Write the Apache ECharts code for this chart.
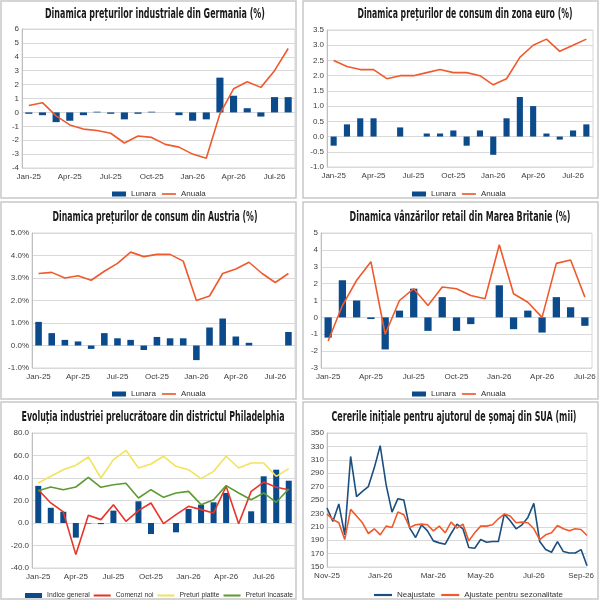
<!DOCTYPE html>
<html>
<head>
<meta charset="utf-8">
<script src="https://cdn.jsdelivr.net/npm/echarts@6/dist/echarts.min.js"></script>
<style>
  html, body { margin: 0; padding: 0; background: #fff; }
  #main { width: 600px; height: 601px; }
</style>
</head>
<body>
<div id="main"></div>
<script>
// month categories Jan-25 .. Sep-26
const months = ['Jan-25','Feb-25','Mar-25','Apr-25','May-25','Jun-25','Jul-25','Aug-25','Sep-25','Oct-25','Nov-25','Dec-25',
  'Jan-26','Feb-26','Mar-26','Apr-26','May-26','Jun-26','Jul-26','Aug-26','Sep-26']

// Germania - preturi industriale
const deLunara = [-0.1,-0.2,-0.7,-0.6,-0.2,0.05,-0.1,-0.5,-0.1,0.05,0,-0.2,-0.6,-0.5,2.5,1.2,0.3,-0.3,1.1,1.1]
const deAnuala = [0.5,0.7,-0.25,-0.9,-1.2,-1.3,-1.5,-2.2,-1.7,-1.8,-2.3,-2.5,-3.0,-3.3,-0.1,1.7,2.2,1.8,3.0,4.6]

// zona euro - preturi de consum
const euLunara = [-0.3,0.4,0.6,0.6,0,0.3,0,0.1,0.1,0.2,-0.3,0.2,-0.6,0.6,1.3,1.0,0.1,-0.1,0.2,0.4]
const euAnuala = [2.5,2.3,2.2,2.2,1.9,2.0,2.0,2.1,2.2,2.1,2.1,2.0,1.7,1.9,2.6,3.0,3.2,2.8,3.0,3.2]

// Austria - preturi de consum
const atLunara = [1.05,0.55,0.25,0.18,-0.15,0.55,0.32,0.25,-0.2,0.38,0.32,0.32,-0.65,0.8,1.2,0.4,0.12,0,0,0.6]
const atAnuala = [3.2,3.25,3.0,3.1,2.9,3.3,3.65,4.15,3.95,4.05,4.05,3.75,2.0,2.2,3.2,3.4,3.7,3.2,2.8,3.2]

// Marea Britanie - vanzari retail
const ukLunara = [-1.2,2.2,1.0,-0.1,-1.9,0.4,1.7,-0.8,1.2,-0.8,-0.4,0,1.9,-0.7,0.4,-0.9,1.2,0.6,-0.5]
const ukAnuala = [-1.4,0.7,2.2,3.3,-1.0,1.0,1.7,0.7,1.8,1.7,1.3,1.1,4.3,1.4,0.9,0.0,3.2,3.4,1.2]

// Philadelphia
const phIndice = [33,13.5,10,-13,-0.5,-1,11,0,19.3,-9.8,0,-8.3,12.4,16.3,18.4,26.7,0,10.4,41.5,47.4,37.6]
const phComenzi = [29.6,17.8,9.8,-28.1,6.8,3,16.3,1.5,11,17.8,-0.6,7.4,14.8,11.9,8.9,32.6,-0.6,28.1,36.4,31.7,29.6]
const phPlatite = [35.6,41.5,47.4,51.3,58.7,40,56.3,64.6,48.9,52.4,59.3,50.4,47.4,39.4,45.9,59.3,48.9,53.3,53.3,41.5,48.3]
const phIncasate = [28.7,32,29.6,32,40.6,31.7,34,35.3,22.2,29.6,22.8,26.7,28.1,16.3,20.7,33.2,26.7,20.7,26.7,18.4,30.2]

// SUA - cereri initiale de somaj (saptamanal)
const claimWeeks = ['01.11.25','08.11.25','15.11.25','22.11.25','29.11.25','06.12.25','13.12.25','20.12.25','27.12.25',
  '03.01.26','10.01.26','17.01.26','24.01.26','31.01.26','07.02.26','14.02.26','21.02.26','28.02.26',
  '07.03.26','14.03.26','21.03.26','28.03.26','04.04.26','11.04.26','18.04.26','25.04.26',
  '02.05.26','09.05.26','16.05.26','23.05.26','30.05.26','06.06.26','13.06.26','20.06.26','27.06.26',
  '04.07.26','11.07.26','18.07.26','25.07.26','01.08.26','08.08.26','15.08.26','22.08.26','29.08.26','05.09.26']
const claimNeajustate = [238,218,244,198,315,255,263,270,298,331,273,232,252,250,208,194,213,204,189,186,184,200,
  214,207,179,178,191,187,188,188,229,219,207,213,224,245,188,176,172,188,173,171,171,176,152]
const claimAjustate = [229,221,216,191,236,226,216,200,207,198,211,209,232,228,209,213,214,213,204,211,201,217,
  208,214,189,201,211,211,213,222,229,226,216,217,216,207,191,198,201,212,207,204,207,206,197]
const claimTickIdx = [0, 9, 18, 26, 35, 43]
const claimTickLabels = ['Nov-25','Jan-26','Mar-26','May-26','Jul-26','Sep-26']

const BLUE = '#0b4a8b'
const ORANGE = '#ef5a2d'
const labelFont = { fontFamily: 'Liberation Sans, Arial, sans-serif', fontSize: 8, color: '#404040' }
const TITLE_FONT = 'bold 14px "DejaVu Sans Condensed", "DejaVu Sans", sans-serif'
const LINE_ICON = 'path://M0,0h20v2.4h-20z'

const panels = [
  { title: 'Dinamica prețurilor industriale din Germania (%)', cx: 155, cy: 14, tw: 220,
    grid: { left: 22, top: 29, width: 273, height: 139 }, min: -4, max: 6, step: 1, fmt: v => v },
  { title: 'Dinamica prețurilor de consum din zona euro (%)', cx: 465, cy: 14, tw: 215,
    grid: { left: 327, top: 30, width: 266, height: 137 }, min: -1, max: 3.5, step: 0.5, fmt: v => v.toFixed(1) },
  { title: 'Dinamica prețurilor de consum din Austria (%)', cx: 155, cy: 217, tw: 205,
    grid: { left: 32, top: 233, width: 263, height: 135 }, min: -1, max: 5, step: 1, fmt: v => v.toFixed(1) + '%' },
  { title: 'Dinamica vânzărilor retail din Marea Britanie (%)', cx: 460, cy: 217, tw: 221,
    grid: { left: 321, top: 233, width: 271, height: 135 }, min: -3, max: 5, step: 1, fmt: v => v },
  { title: 'Evoluția industriei prelucrătoare din districtul Philadelphia', cx: 153, cy: 417, tw: 263,
    grid: { left: 32, top: 433, width: 263, height: 135 }, min: -40, max: 80, step: 20, fmt: v => v.toFixed(1) },
  { title: 'Cererile inițiale pentru ajutorul de șomaj din SUA (mii)', cx: 454, cy: 417, tw: 245,
    grid: { left: 327, top: 433, width: 260, height: 134 }, min: 150, max: 350, step: 20, fmt: v => v }
]

const catsFor = [months.slice(0, 20), months.slice(0, 20), months.slice(0, 20), months.slice(0, 19), months.slice(0, 21), claimWeeks]

// condensed titles: squeeze the bold face to the width seen in the picture
const measure = document.createElement('canvas').getContext('2d')
measure.font = TITLE_FONT
const titleGraphics = panels.map(p => ({
  type: 'text', silent: true, x: p.cx, y: p.cy,
  scaleX: p.tw / measure.measureText(p.title).width,
  style: { text: p.title, font: TITLE_FONT, fill: '#1a1a1a', align: 'center', verticalAlign: 'middle' }
}))

const borderGraphics = [[1, 1], [303, 1], [1, 202], [303, 202], [1, 402], [303, 402]].map(([x, y]) => ({
  type: 'rect', silent: true, z: -1,
  shape: { x: x, y: y, width: 295, height: 197 },
  style: { fill: 'none', stroke: '#c8c8c8', lineWidth: 1.5 }
}))

const legendText = { fontFamily: 'Liberation Sans, Arial, sans-serif', fontSize: 8, color: '#333' }
const pairLegend = [{ name: 'Lunara', icon: 'rect' }, { name: 'Anuala', icon: LINE_ICON }]

const option = {
  animation: false,
  grid: panels.map(p => Object.assign({ show: true, borderColor: '#d9d9d9', borderWidth: 1 }, p.grid)),
  xAxis: catsFor.map((cats, i) => ({
    type: 'category', gridIndex: i, data: cats,
    boundaryGap: i !== 5,
    axisLine: { show: false, onZero: false },
    axisTick: { show: false },
    splitLine: { show: false },
    axisLabel: i === 5
      ? Object.assign({ interval: idx => claimTickIdx.includes(idx),
          formatter: (v, idx) => claimTickLabels[claimTickIdx.indexOf(idx)], margin: 5 }, labelFont)
      : Object.assign({ interval: 2, margin: 5 }, labelFont)
  })),
  yAxis: panels.map((p, i) => ({
    type: 'value', gridIndex: i, min: p.min, max: p.max, interval: p.step,
    axisLine: { show: true, lineStyle: { color: '#bfbfbf' } },
    axisTick: { show: false },
    splitLine: { lineStyle: { color: '#d9d9d9' } },
    axisLabel: Object.assign({ formatter: p.fmt, margin: 3 }, labelFont)
  })),
  legend: [
    { left: 112, top: 190, data: pairLegend },
    { left: 412, top: 190, data: pairLegend },
    { left: 112, top: 390, data: pairLegend },
    { left: 412, top: 390, data: pairLegend },
    { left: 25, top: 592, itemWidth: 17, itemGap: 4,
      textStyle: Object.assign({}, legendText, { fontSize: 6.8 }),
      data: [{ name: 'Indice general', icon: 'rect' }, { name: 'Comenzi noi', icon: LINE_ICON },
        { name: 'Preturi platite', icon: LINE_ICON }, { name: 'Preturi încasate', icon: LINE_ICON }] },
    { left: 374, top: 591, itemWidth: 18,
      data: [{ name: 'Neajustate', icon: LINE_ICON }, { name: 'Ajustate pentru sezonalitate', icon: LINE_ICON }] }
  ].map(l => Object.assign({
    itemWidth: 14, itemHeight: 5, itemGap: 6, padding: 0, symbolKeepAspect: true, textStyle: legendText
  }, l)),
  graphic: borderGraphics.concat(titleGraphics),
  series: []
}

function barLine(i, bars, line, barW) {
  option.series.push(
    { name: 'Lunara', type: 'bar', xAxisIndex: i, yAxisIndex: i, data: bars, barWidth: barW,
      itemStyle: { color: BLUE } },
    { name: 'Anuala', type: 'line', xAxisIndex: i, yAxisIndex: i, data: line, symbol: 'none',
      lineStyle: { color: ORANGE, width: 1.6 }, itemStyle: { color: ORANGE } }
  )
}
barLine(0, deLunara, deAnuala, '52%')
barLine(1, euLunara, euAnuala, '46%')
barLine(2, atLunara, atAnuala, '50%')
barLine(3, ukLunara, ukAnuala, '51%')

option.series.push(
  { name: 'Indice general', type: 'bar', xAxisIndex: 4, yAxisIndex: 4, data: phIndice, barWidth: '48%',
    itemStyle: { color: BLUE } },
  { name: 'Comenzi noi', type: 'line', xAxisIndex: 4, yAxisIndex: 4, data: phComenzi, symbol: 'none',
    lineStyle: { color: '#e8352a', width: 1.6 }, itemStyle: { color: '#e8352a' } },
  { name: 'Preturi platite', type: 'line', xAxisIndex: 4, yAxisIndex: 4, data: phPlatite, symbol: 'none',
    lineStyle: { color: '#f2e35c', width: 1.6 }, itemStyle: { color: '#f2e35c' } },
  { name: 'Preturi încasate', type: 'line', xAxisIndex: 4, yAxisIndex: 4, data: phIncasate, symbol: 'none',
    lineStyle: { color: '#5c9a32', width: 1.6 }, itemStyle: { color: '#5c9a32' } },
  { name: 'Neajustate', type: 'line', xAxisIndex: 5, yAxisIndex: 5, data: claimNeajustate, symbol: 'none',
    lineStyle: { color: '#1b4f80', width: 1.6 }, itemStyle: { color: '#1b4f80' } },
  { name: 'Ajustate pentru sezonalitate', type: 'line', xAxisIndex: 5, yAxisIndex: 5, data: claimAjustate, symbol: 'none',
    lineStyle: { color: ORANGE, width: 1.6 }, itemStyle: { color: ORANGE } }
)

const chart = echarts.init(document.getElementById('main'))
chart.setOption(option)
</script>
</body>
</html>
